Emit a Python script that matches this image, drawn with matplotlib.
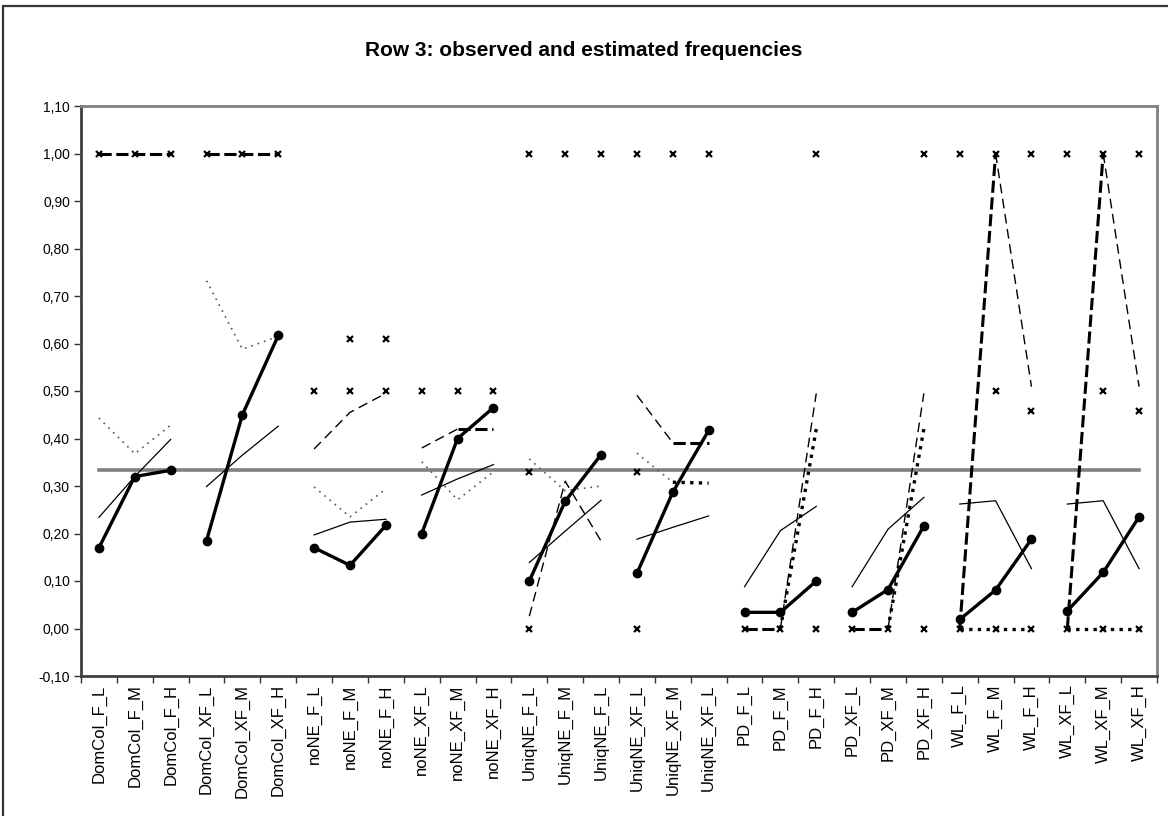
import numpy as np
import matplotlib
matplotlib.use('Agg')
import matplotlib.pyplot as plt
from matplotlib.patches import Rectangle
from matplotlib.ticker import FuncFormatter

plt.rcParams['font.family'] = ['Liberation Sans', 'DejaVu Sans']

nan = np.nan

# # categories
categories = ['DomCol_F_L', 'DomCol_F_M', 'DomCol_F_H', 'DomCol_XF_L', 'DomCol_XF_M', 'DomCol_XF_H',
              'noNE_F_L', 'noNE_F_M', 'noNE_F_H', 'noNE_XF_L', 'noNE_XF_M', 'noNE_XF_H',
              'UniqNE_F_L', 'UniqNE_F_M', 'UniqNE_F_L', 'UniqNE_XF_L', 'UniqNE_XF_M', 'UniqNE_XF_L',
              'PD_F_L', 'PD_F_M', 'PD_F_H', 'PD_XF_L', 'PD_XF_M', 'PD_XF_H',
              'WL_F_L', 'WL_F_M', 'WL_F_H', 'WL_XF_L', 'WL_XF_M', 'WL_XF_H']

# # series (groups of 3 categories)
observed = [0.170, 0.320, 0.333, 0.185, 0.450, 0.617,
            0.170, 0.133, 0.217, 0.200, 0.400, 0.465,
            0.100, 0.268, 0.366, 0.116, 0.287, 0.417,
            0.034, 0.034, 0.100, 0.034, 0.082, 0.216,
            0.019, 0.081, 0.188, 0.037, 0.118, 0.235]

est_solid = [0.234, 0.320, 0.398, 0.299, 0.365, 0.426,
             0.197, 0.224, 0.230, 0.281, 0.315, 0.345,
             0.139, 0.205, 0.270, 0.188, 0.213, 0.237,
             0.088, 0.206, 0.257, 0.088, 0.209, 0.276,
             0.262, 0.269, 0.126, 0.262, 0.269, 0.126]

est_dotted = [0.443, 0.368, 0.428, 0.732, 0.588, 0.615,
              0.298, 0.235, 0.294, 0.351, 0.271, 0.330,
              0.357, 0.290, 0.300, 0.369, 0.308, nan,
              nan, nan, nan, nan, nan, nan,
              nan, nan, nan, nan, nan, nan]

est_dashed = [nan, nan, nan, nan, nan, nan,
              0.378, 0.455, 0.495, 0.380, 0.420, nan,
              0.026, 0.310, 0.184, 0.491, 0.391, nan,
              nan, 0.000, 0.495, nan, 0.000, 0.495,
              nan, 1.000, 0.509, nan, 1.000, 0.509]

bold_dashed = [1.0, 1.0, 1.0, 1.0, 1.0, 1.0,
               nan, nan, nan, nan, 0.420, 0.420,
               nan, nan, nan, nan, 0.391, 0.391,
               0.0, 0.0, nan, 0.0, 0.0, nan,
               0.0, 1.0, nan, 0.0, 1.0, nan]

bold_dotted = [nan, nan, nan, nan, nan, nan,
               nan, nan, nan, nan, nan, nan,
               nan, nan, nan, nan, 0.308, 0.306,
               nan, 0.0, 0.420, nan, 0.0, 0.420,
               0.0, 0.0, 0.0, 0.0, 0.0, 0.0]

x_high = [1.0, 1.0, 1.0, 1.0, 1.0, 1.0,
          nan, 0.61, 0.61, nan, nan, nan,
          1.0, 1.0, 1.0, 1.0, 1.0, 1.0,
          nan, nan, 1.0, nan, nan, 1.0,
          1.0, 1.0, 1.0, 1.0, 1.0, 1.0]

x_mid = [nan, nan, nan, nan, nan, nan,
         0.50, 0.50, 0.50, 0.50, 0.50, 0.50,
         0.33, nan, nan, 0.33, nan, nan,
         nan, nan, nan, nan, nan, nan,
         nan, 0.50, 0.457, nan, 0.50, 0.457]

x_low = [nan, nan, nan, nan, nan, nan,
         nan, nan, nan, nan, nan, nan,
         0.0, nan, nan, 0.0, nan, nan,
         0.0, 0.0, 0.0, 0.0, 0.0, 0.0,
         0.0, 0.0, 0.0, 0.0, 0.0, 0.0]

chance = 1.0 / 3.0

x = np.arange(len(categories))

fig = plt.figure(figsize=(11.68, 8.16), dpi=100)
ax = fig.add_axes([81 / 1168, 1 - 676 / 816, (1157 - 81) / 1168, (676 - 106) / 816])

# outer chart border
fig.patches.append(Rectangle((3 / 1168, -0.1), 1.2, (816 - 6) / 816 + 0.1, transform=fig.transFigure,
                             fill=False, edgecolor='#333333', linewidth=1.6))

# chance level
ax.plot([x[0], x[-1]], [chance, chance], color='#808080', linewidth=2.6, zorder=2)


def by_group(vals, **kw):
    vals = np.array(vals, dtype=float)
    for g in range(0, len(x), 3):
        ax.plot(x[g:g + 3], vals[g:g + 3], **kw)


by_group(est_solid, color='black', linewidth=0.9, zorder=3)
by_group(est_dotted, color='#555555', linewidth=1.2, linestyle=(0, (1, 3)), zorder=3)
by_group(est_dashed, color='black', linewidth=1.0, linestyle=(0, (7, 4)), zorder=3)
by_group(bold_dashed, color='black', linewidth=2.2, linestyle=(0, (4, 1.5)), zorder=4)
by_group(bold_dotted, color='black', linewidth=2.4, linestyle=(0, (1, 1.6)), zorder=4)
by_group(observed, color='black', linewidth=2.4, marker='o', markersize=6, zorder=6)

for vals in (x_high, x_mid, x_low):
    ax.plot(x, vals, linestyle='none', marker='x', color='black', markersize=4.5,
            markeredgewidth=1.6, zorder=5)

ax.set_xlim(-0.5, len(categories) - 0.5)
ax.set_ylim(-0.10, 1.10)
ax.set_yticks(np.arange(-0.10, 1.101, 0.10))
ax.yaxis.set_major_formatter(FuncFormatter(lambda v, p: ('%.2f' % v).replace('.', ',')))
ax.tick_params(axis='y', labelsize=10, direction='out', length=5, width=1, colors='#333333',
               labelcolor='black', pad=3)

ax.set_xticks(x)
ax.set_xticklabels(categories, rotation=90, fontsize=12)
ax.tick_params(axis='x', length=0, pad=6)
ax.set_xticks(np.arange(-0.5, len(categories), 1.0), minor=True)
ax.tick_params(axis='x', which='minor', length=5, width=1, direction='out', color='#333333')

for s in ('left', 'bottom'):
    ax.spines[s].set_color('#404040')
    ax.spines[s].set_linewidth(2)
for s in ('top', 'right'):
    ax.spines[s].set_color('#808080')
    ax.spines[s].set_linewidth(2)

fig.text(0.5, 1 - 51 / 816, 'Row 3: observed and estimated frequencies', ha='center', va='center',
         fontsize=15, fontweight='bold')

fig.savefig('out.png', dpi=100)
plt.close(fig)
